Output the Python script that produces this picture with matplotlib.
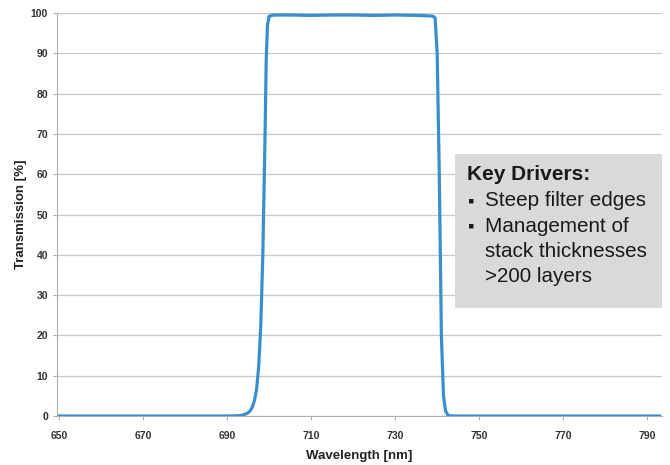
import matplotlib.pyplot as plt
import numpy as np

# transmission curve (nm, %)
wavelength = [650, 660, 670, 680, 690, 692, 693, 694, 695, 695.5, 696, 696.5,
              697, 697.5, 698, 698.5, 699, 699.3, 699.6, 700, 701, 705, 710,
              715, 720, 725, 730, 735, 738, 739, 739.5, 740, 740.5, 741,
              741.5, 742, 742.5, 743, 744, 750, 760, 770, 780, 790, 793]
transmission = [0, 0, 0, 0, 0, 0.03, 0.1, 0.3, 0.8, 1.3, 2.2, 3.8,
                6.5, 12, 22, 40, 68, 88, 97, 99.2, 99.5, 99.5, 99.4,
                99.5, 99.5, 99.4, 99.5, 99.4, 99.3, 99.2, 98.8, 90, 60, 20,
                5, 1.2, 0.3, 0.05, 0, 0, 0, 0, 0, 0, 0]

x_ticks = [650, 670, 690, 710, 730, 750, 770, 790]
y_ticks = list(range(0, 101, 10))

box_title = "Key Drivers:"
box_bullets = [["Steep filter edges"],
               ["Management of", "stack thicknesses", ">200 layers"]]

plt.rcParams["font.family"] = ["Liberation Sans", "DejaVu Sans"]

fig = plt.figure(figsize=(6.7, 4.65), dpi=100)
ax = fig.add_axes([0.085, 0.1054, 0.903, 0.8666])

ax.plot(wavelength, transmission, color="#3a8ed0", lw=2.3, solid_capstyle="round",
        solid_joinstyle="round", zorder=3)

ax.set_xlim(649.5, 793.5)
ax.set_ylim(0, 100)
ax.set_xticks(x_ticks)
ax.set_yticks(y_ticks)
ax.yaxis.grid(True, color="#c8c8c8", lw=0.9)
ax.set_axisbelow(True)
for side in ("top", "right"):
    ax.spines[side].set_visible(False)
for side in ("left", "bottom"):
    ax.spines[side].set_color("#b0b0b0")
ax.tick_params(axis="both", colors="#b0b0b0", labelcolor="#333333", labelsize=7.5, length=3)
for lbl in ax.get_xticklabels() + ax.get_yticklabels():
    lbl.set_fontweight("bold")
ax.tick_params(axis="x", pad=8)

ax.set_xlabel("Wavelength [nm]", fontsize=9.5, fontweight="bold", color="#222222", labelpad=6)
ax.set_ylabel("Transmission [%]", fontsize=9.5, fontweight="bold", color="#222222", labelpad=3)

# grey annotation box
fig.patches.append(plt.Rectangle((455 / 670, 1 - 308 / 465), 207 / 670, 154 / 465,
                                 transform=fig.transFigure, facecolor="#d9d9d9",
                                 edgecolor="none", zorder=5))
fig.text(467 / 670, 1 - 174 / 465, box_title, fontsize=15, fontweight="bold",
         color="#1a1a1a", va="center", zorder=6)
row = 0
for bullet in box_bullets:
    fig.text(468 / 670, 1 - (202 + 25.3 * row) / 465, "\u25aa", fontsize=13,
             color="#1a1a1a", va="center", zorder=6)
    for line in bullet:
        fig.text(485 / 670, 1 - (201 + 25.3 * row) / 465, line, fontsize=14.9,
                 color="#1a1a1a", va="center", zorder=6)
        row += 1

fig.savefig("out.png", dpi=100)
